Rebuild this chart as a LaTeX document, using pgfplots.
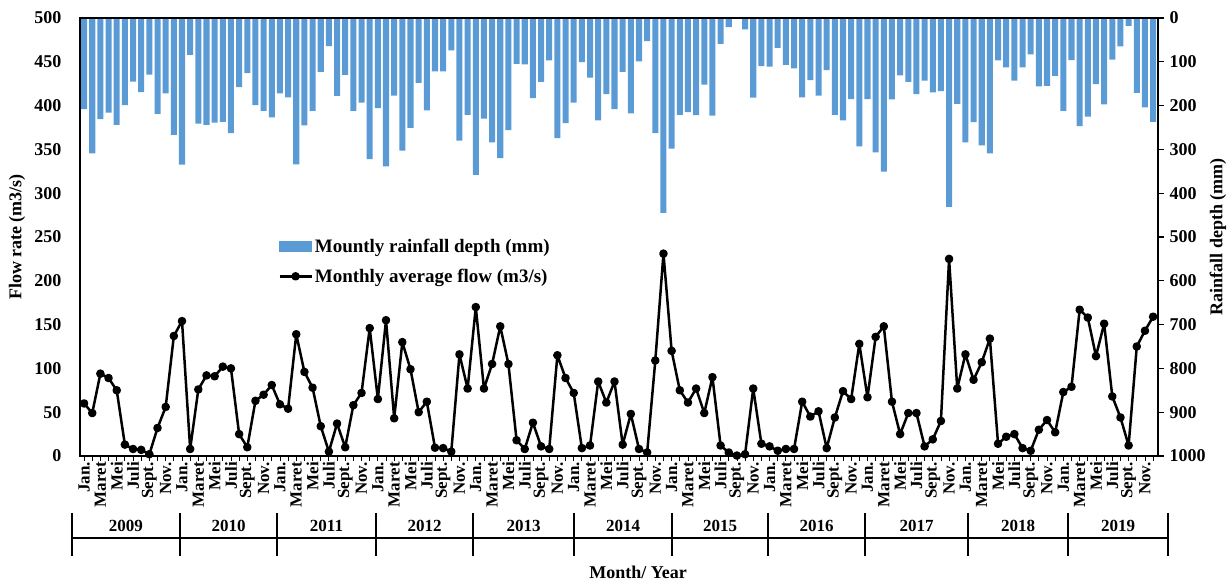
\documentclass[border=0pt]{standalone}
\usepackage{fontspec}
\setmainfont{Liberation Serif}
\usepackage{pgfplots}
\pgfplotsset{compat=1.18}
\definecolor{barblue}{HTML}{5B9BD5}
\pgfplotsset{
  mylinelegend/.style={legend image code/.code={\draw[mark repeat=2,mark phase=2,##1] plot coordinates {(0pt,0pt) (16pt,0pt) (32pt,0pt)};}},
  mybarlegend/.style={legend image code/.code={\fill[barblue] (0pt,-5pt) rectangle (32pt,5pt);}},
}
\begin{document}
\begin{tikzpicture}
\pgfplotsset{
  every axis/.append style={width=1078pt,height=438pt,scale only axis,
    xmin=-0.5,xmax=131.6,at={(0pt,0pt)},anchor=south west,clip mode=individual,
    /pgf/number format/1000 sep={}},
}
\begin{axis}[
  axis x line=none,
  axis y line*=right,
  y dir=reverse,
  ymin=0,ymax=1000,
  ytick={0,100,...,1000},
  tick align=outside,
  major tick length=6pt,
  ytick style={line width=1.2pt,black},
  axis line style={line width=1.6pt},
  yticklabel style={font=\bfseries\fontsize{18}{20}\selectfont,xshift=2pt},
  /pgf/number format/assume math mode=true,
]
\addplot[ybar,bar width=0.74,fill=barblue,draw=none] coordinates {
(0,208)(1,309)(2,231)(3,216)(4,244)(5,199)(6,145)(7,169)(8,129)(9,219)(10,172)(11,267)
(12,335)(13,84)(14,241)(15,244)(16,239)(17,237)(18,263)(19,158)(20,126)(21,199)(22,212)(23,227)
(24,172)(25,181)(26,334)(27,245)(28,212)(29,123)(30,64)(31,178)(32,130)(33,212)(34,193)(35,322)
(36,206)(37,339)(38,177)(39,303)(40,251)(41,148)(42,211)(43,122)(44,122)(45,74)(46,280)(47,221)
(48,358)(49,230)(50,284)(51,320)(52,256)(53,105)(54,106)(55,183)(56,146)(57,97)(58,274)(59,240)
(60,193)(61,101)(62,136)(63,234)(64,174)(65,208)(66,123)(67,218)(68,99)(69,53)(70,263)(71,445)
(72,298)(73,221)(74,215)(75,222)(76,152)(77,223)(78,59)(79,21)(80,0)(81,26)(82,182)(83,110)
(84,111)(85,68)(86,107)(87,115)(88,181)(89,142)(90,177)(91,119)(92,221)(93,234)(94,185)(95,293)
(96,185)(97,307)(98,351)(99,186)(100,131)(101,146)(102,174)(103,143)(104,170)(105,167)(106,431)(107,196)
(108,284)(109,238)(110,291)(111,309)(112,97)(113,113)(114,143)(115,113)(116,83)(117,156)(118,155)(119,132)
(120,212)(121,96)(122,247)(123,225)(124,151)(125,197)(126,95)(127,65)(128,18)(129,171)(130,204)(131,237)
};
\path (rel axis cs:1,0.5) ++(60pt,0pt) node[rotate=90,font=\bfseries\fontsize{18}{20}\selectfont]{Rainfall depth (mm)};
\end{axis}
\begin{axis}[
  ymin=0,ymax=500,
  ytick={0,50,...,500},
  ytick pos=left,
  ytick style={draw=none},
  xtick={0,...,131},
  xtick pos=bottom,
  xtick style={line width=0.8pt,black},
  tick align=outside,
  major tick length=5pt,
  axis line style={line width=1.6pt},
  xticklabels={Jan.,,Maret,,Mei,,Juli,,Sept.,,Nov.,,Jan.,,Maret,,Mei,,Juli,,Sept.,,Nov.,,Jan.,,Maret,,Mei,,Juli,,Sept.,,Nov.,,Jan.,,Maret,,Mei,,Juli,,Sept.,,Nov.,,Jan.,,Maret,,Mei,,Juli,,Sept.,,Nov.,,Jan.,,Maret,,Mei,,Juli,,Sept.,,Nov.,,Jan.,,Maret,,Mei,,Juli,,Sept.,,Nov.,,Jan.,,Maret,,Mei,,Juli,,Sept.,,Nov.,,Jan.,,Maret,,Mei,,Juli,,Sept.,,Nov.,,Jan.,,Maret,,Mei,,Juli,,Sept.,,Nov.,,Jan.,,Maret,,Mei,,Juli,,Sept.,,Nov.,{}},
  x tick label style={rotate=90,anchor=east,font=\bfseries\fontsize{17}{17}\selectfont,inner sep=1pt},
  yticklabel style={font=\bfseries\fontsize{18}{20}\selectfont,xshift=-10pt},
  /pgf/number format/assume math mode=true,
  legend style={at={(0.181,0.505)},anchor=north west,draw=none,fill=none,
    font=\bfseries\fontsize{19}{21}\selectfont,row sep=11pt},
  legend cell align=left,
]
\addlegendimage{mybarlegend}
\addlegendentry{Mountly rainfall depth (mm)}
\addplot[black,line width=2.5pt,line join=round,mark=*,mark size=3pt,mark options={solid},mylinelegend]
coordinates {
(0,60)(1,49)(2,94)(3,89)(4,75)(5,13)(6,8)(7,7)(8,2)(9,32)(10,56)(11,137)
(12,154)(13,8)(14,76)(15,92)(16,91)(17,102)(18,100)(19,25)(20,10)(21,63)(22,70)(23,81)
(24,59)(25,54)(26,139)(27,96)(28,78)(29,34)(30,5)(31,37)(32,10)(33,58)(34,72)(35,146)
(36,65)(37,155)(38,43)(39,130)(40,99)(41,50)(42,62)(43,9.5)(44,9)(45,5)(46,116)(47,77)
(48,170)(49,77)(50,105)(51,148)(52,105)(53,18)(54,8)(55,38)(56,11)(57,8)(58,115)(59,89)
(60,72)(61,9)(62,12)(63,85)(64,61)(65,85)(66,13)(67,48)(68,8)(69,4)(70,109)(71,231)
(72,120)(73,75)(74,61)(75,77)(76,49)(77,90)(78,12)(79,4)(80,0.5)(81,2)(82,77)(83,14)
(84,11)(85,6)(86,8)(87,8)(88,62)(89,45)(90,51)(91,9)(92,44)(93,74)(94,65)(95,128)
(96,67)(97,136)(98,148)(99,62)(100,25)(101,49)(102,49)(103,11)(104,19)(105,40)(106,225)(107,77)
(108,116)(109,87)(110,107)(111,134)(112,14)(113,22)(114,25)(115,9)(116,6)(117,30)(118,41)(119,27)
(120,73)(121,79)(122,167)(123,158)(124,114)(125,151)(126,68)(127,44)(128,12)(129,125)(130,143)(131,159)
};
\addlegendentry{Monthly average flow (m3/s)}
\path (rel axis cs:0,0.5) ++(-63pt,0pt) node[rotate=90,font=\bfseries\fontsize{18}{20}\selectfont]{Flow rate (m3/s)};
\end{axis}
% year table
\draw[line width=1.2pt] (-8pt,-82pt) -- (1088pt,-82pt);
\foreach \x in {-8,100,197,296,393,494,592,688,785,888,988,1088}
  \draw[line width=1.2pt] (\x pt,-57pt) -- (\x pt,-100pt);
\foreach \x/\y in {46/2009,148.5/2010,246.5/2011,344.5/2012,443.5/2013,543/2014,640/2015,736.5/2016,836.5/2017,938/2018,1038/2019}
  \node[font=\bfseries\fontsize{17}{17}\selectfont] at (\x pt,-70pt) {\y};
\node[font=\bfseries\fontsize{18}{20}\selectfont] at (558pt,-116pt) {Month/ Year};
\pgfresetboundingbox
\path[use as bounding box] (-80pt,-124pt) rectangle (1152pt,456pt);
\end{tikzpicture}
\end{document}
